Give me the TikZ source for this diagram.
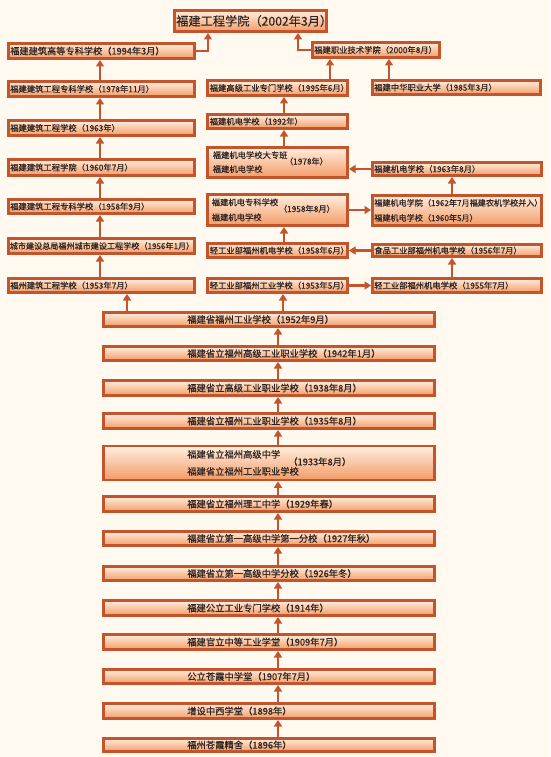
\documentclass[tikz,border=0pt]{standalone}
\usepackage{fontspec}
\setmainfont[FakeBold=0.4]{Noto Sans CJK SC}
\usetikzlibrary{arrows.meta,calc}
\definecolor{bord}{HTML}{C4542C}
\definecolor{ftop}{HTML}{FFEFE0}
\definecolor{fbot}{HTML}{F39B66}
\definecolor{bgc}{HTML}{FFF9F0}
\definecolor{txt}{HTML}{2E2420}
\tikzset{
 boxst/.style={draw=bord, line width=2.6pt, top color=ftop, bottom color=fbot,
   inner xsep=0pt, inner ysep=0pt, align=left, text=txt,
   font=\fontsize{8.3}{10}\selectfont},
 stackst/.style={font=\fontsize{9.3}{11}\selectfont},
 arr/.style={draw=bord, line width=2.6pt, -{Triangle[width=8pt,length=6.5pt]}},
}
\newcommand\mkbox[7][]{%
 \pgfmathsetmacro\mkW{#4-#2-2.6}%
 \pgfmathsetmacro\mkH{#5-#3-2.6}%
 \pgfmathsetmacro\mkX{(#2+#4)/2}%
 \pgfmathsetmacro\mkY{(#3+#5)/2}%
 \node[boxst,minimum width=\mkW pt,minimum height=\mkH pt,text width=\mkW pt,#1] (#6) at (\mkX,\mkY) {#7};}
\newcommand\mkind[1]{\hspace*{#1pt}}
\newcommand\twolines[3]{\fontsize{#3}{#1}\selectfont\begin{tabular}{@{}l@{}}#2\end{tabular}}
\begin{document}
\begin{tikzpicture}[x=1pt,y=-1pt]
\fill[bgc] (0,0) rectangle (550,757);
\useasboundingbox (0,0) rectangle (550,757);
% connector x positions
\coordinate (lx) at (100,0);
\coordinate (mx) at (284,0);
\coordinate (rx) at (452,0);
\coordinate (sx) at (278,0);
\coordinate (ax1) at (127,0);
\coordinate (ax2) at (283,0);
\coordinate (tj1) at (208,0);
\coordinate (tj2) at (298,0);
\coordinate (ax3) at (389,0);
\coordinate (ax4) at (330,0);
% top
\mkbox[font=\fontsize{12.2}{14}\selectfont]{173}{9}{328}{33}{top}{\mkind{2}福建工程学院（2002年3月）}
% left column
\mkbox[font=\fontsize{9.2}{11}\selectfont]{7}{42}{196}{60}{l1994}{\mkind{2}福建建筑高等专科学校（1994年3月）}
\mkbox{7}{80}{196}{98}{l1978}{\mkind{2}福建建筑工程专科学校（1978年11月）}
\mkbox{7}{119}{196}{137}{l1963}{\mkind{2}福建建筑工程学校（1963年）}
\mkbox{7}{158}{196}{177}{l1960}{\mkind{2}福建建筑工程学院（1960年7月）}
\mkbox{7}{198}{196}{215}{l1958}{\mkind{2}福建建筑工程专科学校（1958年9月）}
\mkbox[font=\fontsize{8.1}{10}\selectfont]{7}{237}{196}{255}{l1956}{\mkind{1.5}城市建设总局福州城市建设工程学校（1956年1月）}
\mkbox{7}{277}{196}{294}{l1953}{\mkind{2}福州建筑工程学校（1953年7月）}
% right top
\mkbox{311}{41}{441}{59}{r2000}{\mkind{2}福建职业技术学院（2000年8月）}
\mkbox{371}{79}{542}{96}{r1985}{\mkind{2}福建中华职业大学（1985年3月）}
% middle column
\mkbox{206}{79}{349}{97}{m1995}{\mkind{2.5}福建高级工业专门学校（1995年6月）}
\mkbox{206}{113}{349}{130}{m1992}{\mkind{2.5}福建机电学校（1992年）}
\mkbox{206}{146}{349}{179}{m1978}{\mkind{5.5}\rlap{\twolines{14}{福建机电学校大专班\\福建机电学校}{8.3}}\hspace*{72pt}（1978年）}
\mkbox{206}{193}{349}{227}{m1958a}{\mkind{4.5}\rlap{\twolines{15}{福建机电专科学校\\福建机电学校}{8.3}}\hspace*{67pt}（1958年8月）}
\mkbox{206}{242}{349}{259}{m1958b}{\mkind{2.5}轻工业部福州机电学校（1958年6月）}
\mkbox{206}{277}{349}{294}{m1953}{\mkind{2.5}轻工业部福州工业学校（1953年5月）}
% right column
\mkbox{371}{161}{543}{177}{r1963}{\mkind{2}福建机电学校（1963年8月）}
\mkbox[font=\fontsize{8.1}{10}\selectfont]{371}{194}{543}{227}{r1960}{\mkind{2}\twolines{15}{福建机电学院（1962年7月福建农机学校并入）\\福建机电学校（1960年5月）}{8.1}}
\mkbox{371}{243}{543}{258}{r1956}{\mkind{2}食品工业部福州机电学校（1956年7月）}
\mkbox{371}{277}{543}{294}{r1955}{\mkind{2}轻工业部福州机电学校（1955年7月）}
% stack
\mkbox[stackst]{102}{311}{436}{328}{s1952}{\mkind{84}福建省福州工业学校（1952年9月）}
\mkbox[stackst]{102}{345}{436}{362}{s1942}{\mkind{84}福建省立福州高级工业职业学校（1942年1月）}
\mkbox[stackst]{102}{379}{436}{397}{s1938}{\mkind{84}福建省立高级工业职业学校（1938年8月）}
\mkbox[stackst]{102}{412}{436}{430}{s1935}{\mkind{84}福建省立福州工业职业学校（1935年8月）}
\mkbox[stackst]{102}{448}{436}{478}{s1933}{\mkind{84}\rlap{\twolines{17}{福建省立福州高级中学\\福建省立福州工业职业学校}{9.3}}\hspace*{101pt}（1933年8月）}
\mkbox[stackst]{102}{495}{436}{513}{s1929}{\mkind{84}福建省立福州理工中学（1929年春）}
\mkbox[stackst]{102}{530}{436}{547}{s1927}{\mkind{84}福建省立第一高级中学第一分校（1927年秋）}
\mkbox[stackst]{102}{565}{436}{582}{s1926}{\mkind{84}福建省立第一高级中学分校（1926年冬）}
\mkbox[stackst]{102}{599}{436}{617}{s1914}{\mkind{84}福建公立工业专门学校（1914年）}
\mkbox[stackst]{102}{633}{436}{651}{s1909}{\mkind{84}福建官立中等工业学堂（1909年7月）}
\mkbox[stackst]{102}{668}{436}{685}{s1907}{\mkind{84}公立苍霞中学堂（1907年7月）}
\mkbox[stackst]{102}{702}{436}{720}{s1898}{\mkind{84}增设中西学堂（1898年）}
\mkbox[stackst]{102}{737}{436}{753}{s1896}{\mkind{84}福州苍霞精舍（1896年）}
% connectors: top
\draw[arr] (l1994.east) -| (top.south -| tj1);
\draw[arr] (r2000.west) -| (top.south -| tj2);
\draw[arr] (r1985.north -| ax3) -- (r2000.south -| ax3);
\draw[arr] (m1995.north -| ax4) -- (r2000.south -| ax4);
% left column
\draw[arr] (l1978.north -| lx) -- (l1994.south -| lx);
\draw[arr] (l1963.north -| lx) -- (l1978.south -| lx);
\draw[arr] (l1960.north -| lx) -- (l1963.south -| lx);
\draw[arr] (l1958.north -| lx) -- (l1960.south -| lx);
\draw[arr] (l1956.north -| lx) -- (l1958.south -| lx);
\draw[arr] (l1953.north -| lx) -- (l1956.south -| lx);
% middle column
\draw[arr] (m1992.north -| mx) -- (m1995.south -| mx);
\draw[arr] (m1978.north -| mx) -- (m1992.south -| mx);
\draw[arr] (m1958b.north -| mx) -- (m1958a.south -| mx);
% right column
\draw[arr] (r1960.north -| rx) -- (r1963.south -| rx);
\draw[arr] (r1955.north -| rx) -- (r1956.south -| rx);
% horizontals
\draw[arr] (r1963.west) -- (r1963.west -| m1978.east);
\draw[arr] (m1958a.east) -- (m1958a.east -| r1960.west);
\draw[arr] (r1956.west) -- (r1956.west -| m1958b.east);
\draw[arr] (m1953.east) -- (m1953.east -| r1955.west);
% stack to columns
\draw[arr] (s1952.north -| ax1) -- (l1953.south -| ax1);
\draw[arr] (s1952.north -| ax2) -- (m1953.south -| ax2);
% stack
\draw[arr] (s1942.north -| sx) -- (s1952.south -| sx);
\draw[arr] (s1938.north -| sx) -- (s1942.south -| sx);
\draw[arr] (s1935.north -| sx) -- (s1938.south -| sx);
\draw[arr] (s1933.north -| sx) -- (s1935.south -| sx);
\draw[arr] (s1929.north -| sx) -- (s1933.south -| sx);
\draw[arr] (s1927.north -| sx) -- (s1929.south -| sx);
\draw[arr] (s1926.north -| sx) -- (s1927.south -| sx);
\draw[arr] (s1914.north -| sx) -- (s1926.south -| sx);
\draw[arr] (s1909.north -| sx) -- (s1914.south -| sx);
\draw[arr] (s1907.north -| sx) -- (s1909.south -| sx);
\draw[arr] (s1898.north -| sx) -- (s1907.south -| sx);
\draw[arr] (s1896.north -| sx) -- (s1898.south -| sx);
\end{tikzpicture}
\end{document}
